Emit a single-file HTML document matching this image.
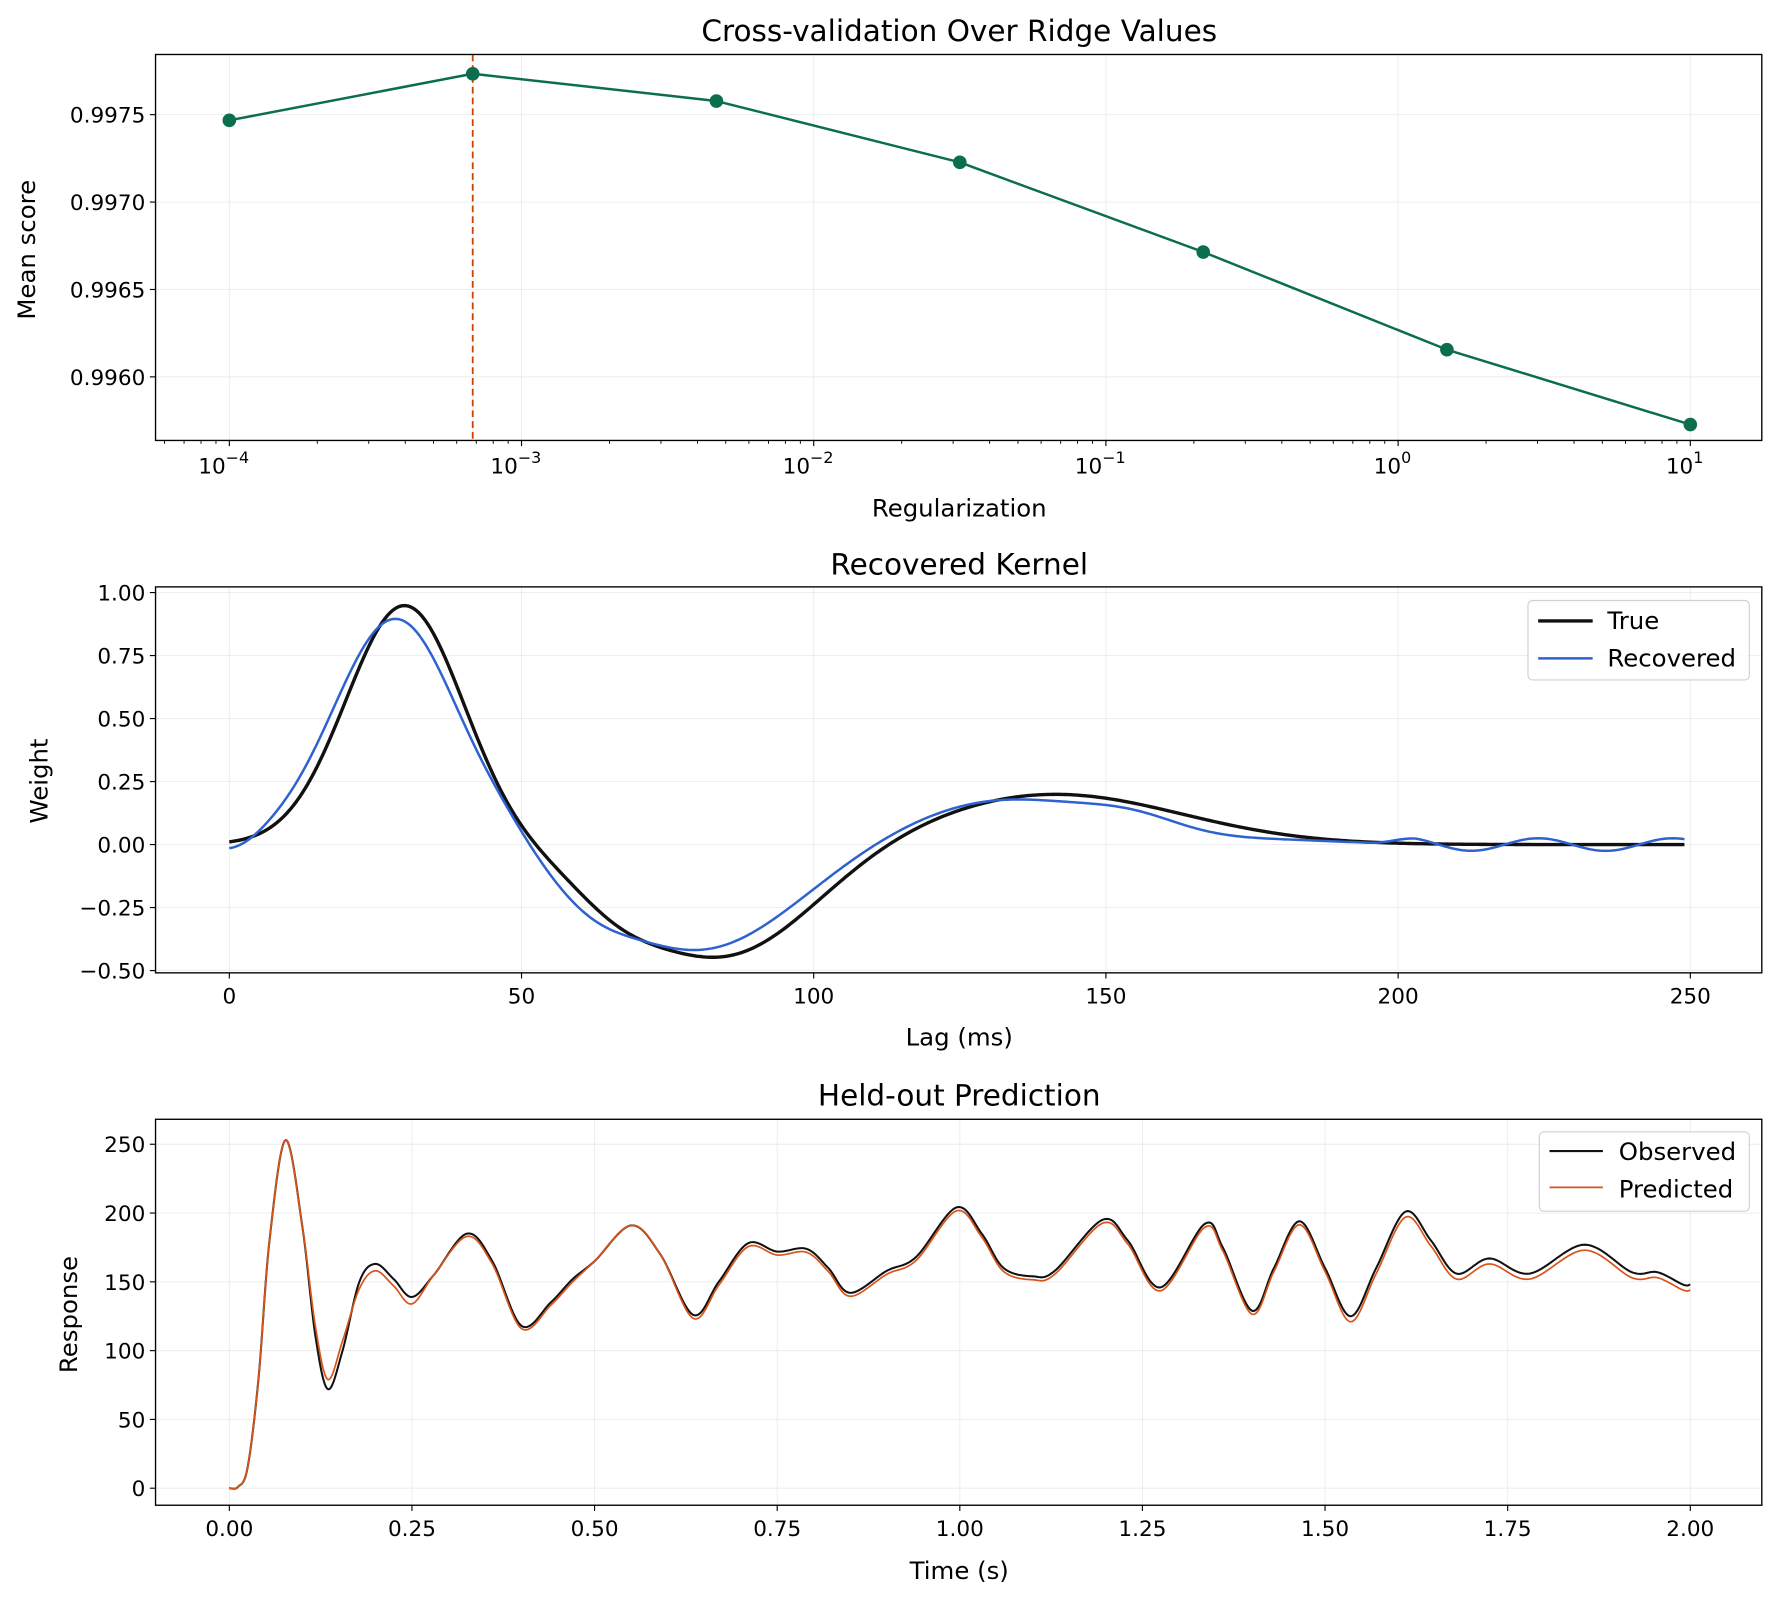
<!DOCTYPE html>
<html><head><meta charset="utf-8"><style>
html,body{margin:0;padding:0;background:#fff}
svg{display:block}
text{font-family:"DejaVu Sans","Liberation Sans",sans-serif;fill:#000}
</style></head><body>
<svg id="s" width="1780" height="1599" viewBox="0 0 1568 1408.6" xmlns="http://www.w3.org/2000/svg">
<rect width="1568" height="1409" fill="#fff"/>
<g id="g"></g>
<text x="845" y="36" font-size="26" text-anchor="middle">Cross-validation Over Ridge Values</text>
<text x="845" y="455" font-size="21.5" text-anchor="middle">Regularization</text>
<text transform="translate(31,220) rotate(-90)" font-size="21.5" text-anchor="middle">Mean score</text>
<text x="845" y="506" font-size="26" text-anchor="middle">Recovered Kernel</text>
<text x="845" y="921" font-size="21.5" text-anchor="middle">Lag (ms)</text>
<text transform="translate(42,688) rotate(-90)" font-size="21.5" text-anchor="middle">Weight</text>
<text x="845" y="974" font-size="26" text-anchor="middle">Held-out Prediction</text>
<text x="845" y="1391" font-size="21.5" text-anchor="middle">Time (s)</text>
<text transform="translate(68,1158) rotate(-90)" font-size="21.5" text-anchor="middle">Response</text>
<text x="1416" y="554" font-size="21.5">True</text>
<text x="1416" y="587" font-size="21.5">Recovered</text>
<text x="1426" y="1022" font-size="21.5">Observed</text>
<text x="1426" y="1055" font-size="21.5">Predicted</text>
</svg>
<script>
var g=document.getElementById('g'),h='';
function L(x1,y1,x2,y2,c,w,extra){h+='<line x1="'+x1+'" y1="'+y1+'" x2="'+x2+'" y2="'+y2+'" stroke="'+c+'" stroke-width="'+w+'" '+(extra||'')+'/>';}
function T(x,y,s,a,fs){h+='<text x="'+x+'" y="'+y+'" font-size="'+(fs||19)+'" text-anchor="'+a+'">'+s+'</text>';}
function P(pts,c,w){var d='M'+pts.map(function(p){return p[0].toFixed(2)+','+p[1].toFixed(2)}).join('L');h+='<path d="'+d+'" fill="none" stroke="'+c+'" stroke-width="'+w+'" stroke-linejoin="round"/>';}
var X0=137,X1=1552;
// ---------- top
var t0=48,t1=388;
function lx(v){return 202+(v+4)*257.4;}
function ty(v){return 101+(0.9975-v)/0.0005*77;}
for(var e=-4;e<=1;e++){L(lx(e),t0,lx(e),t1,'#ebebeb',0.8);}
[0.9975,0.9970,0.9965,0.9960].forEach(function(v){L(X0,ty(v),X1,ty(v),'#ebebeb',0.8);L(X0-5,ty(v),X0,ty(v),'#000',1);T(X0-9,ty(v)+7,v.toFixed(4),'end');});
for(var e=-5;e<=1;e++){for(var k=2;k<10;k++){var x=lx(e+Math.log10(k));if(x>X0&&x<X1)L(x,t1,x,t1+3,'#000',0.8);}}
['−4','−3','−2','−1','0','1'].forEach(function(s,i){var x=lx(i-4);L(x,t1,x,t1+5,'#000',1);h+='<text x="'+(x-5)+'" y="'+(t1+29)+'" font-size="19" text-anchor="middle">10<tspan dy="-9" font-size="14">'+s+'</tspan></text>';});
var cv=[[-4,106],[-3.167,65],[-2.333,89],[-1.5,143],[-0.667,222],[0.167,308],[1,374]];
L(lx(-3.167),t0,lx(-3.167),t1,'#cc4400',1.6,'stroke-dasharray="6,3.5"');
P(cv.map(function(p){return [lx(p[0]),p[1]]}),'#0b6e4f',2.2);
cv.forEach(function(p){h+='<circle cx="'+lx(p[0])+'" cy="'+p[1]+'" r="6" fill="#0b6e4f"/>';});
h+='<rect x="'+X0+'" y="'+t0+'" width="'+(X1-X0)+'" height="'+(t1-t0)+'" fill="none" stroke="#000" stroke-width="1.2"/>';
// ---------- middle
var m0=517,m1=857;
function mx(v){return 202+v*5.148;}
function my(v){return 744-v*222;}
for(var v=0;v<=250;v+=50){L(mx(v),m0,mx(v),m1,'#ebebeb',0.8);L(mx(v),m1,mx(v),m1+5,'#000',1);T(mx(v),m1+27,v,'middle');}
[1,0.75,0.5,0.25,0,-0.25,-0.5].forEach(function(v){L(X0,my(v),X1,my(v),'#ebebeb',0.8);L(X0-5,my(v),X0,my(v),'#000',1);T(X0-9,my(v)+7,(v<0?'−':'')+Math.abs(v).toFixed(2),'end');});
function G(t,a,m,s){return a*Math.exp(-(t-m)*(t-m)/(2*s*s));}
var tr=[],rc=[];
for(var t=0;t<=249;t+=0.5){
 var f=G(t,0.95,30,10)+G(t,-0.45,84,16)+G(t,0.2,141,22)+G(t,-0.08,66,7);
 tr.push([mx(t),my(f)]);
 var r=G(t,0.9,28.5,10.6)+G(t,-0.42,80,17)+G(t,0.18,133,18)+G(t,-0.06,62,6)+G(t,-0.04,1,4)+G(t,0.05,155,8)+G(t,0.015,180,12)+G(t,0.04,47,5);
 if(t>195)r+=0.025*Math.sin((t-201)/23*2*Math.PI+Math.PI/2)*Math.min(1,(t-195)/8);
 rc.push([mx(t),my(r)]);
}
P(tr,'#111',3);P(rc,'#2e62d0',2.2);
h+='<rect x="1346" y="529" width="195" height="70" rx="4" fill="#fff" fill-opacity="0.85" stroke="#d0d0d0" stroke-width="1"/>';
L(1355,547,1403,547,'#111',3);L(1355,580,1403,580,'#2e62d0',2.2);
h+='<rect x="'+X0+'" y="'+m0+'" width="'+(X1-X0)+'" height="'+(m1-m0)+'" fill="none" stroke="#000" stroke-width="1.2"/>';
// ---------- bottom
var b0=986,b1=1326;
function bx(v){return 202+v*643.5;}
function by(v){return 1311-v*1.212;}
for(var i=0;i<=8;i++){var v=i*0.25;L(bx(v),b0,bx(v),b1,'#ebebeb',0.8);L(bx(v),b1,bx(v),b1+5,'#000',1);T(bx(v),b1+27,v.toFixed(2),'middle');}
for(var v=0;v<=250;v+=50){L(X0,by(v),X1,by(v),'#ebebeb',0.8);L(X0-5,by(v),X0,by(v),'#000',1);T(X0-9,by(v)+7,v,'end');}
var ob=[[0,0],[0.012,1],[0.025,15],[0.04,80],[0.055,180],[0.077,253],[0.1,190],[0.118,110],[0.135,72],[0.155,100],[0.178,150],[0.2,163],[0.225,152],[0.25,139],[0.28,155],[0.325,185],[0.36,165],[0.4,118],[0.44,135],[0.47,152],[0.5,165],[0.55,191],[0.59,170],[0.635,126],[0.67,150],[0.71,178],[0.75,172],[0.79,174],[0.82,160],[0.85,142],[0.9,158],[0.94,168],[0.995,204],[1.03,185],[1.06,160],[1.1,154],[1.13,158],[1.195,195],[1.23,180],[1.275,146],[1.335,192],[1.36,175],[1.4,129],[1.43,160],[1.465,194],[1.5,160],[1.535,125],[1.57,160],[1.61,201],[1.645,180],[1.68,156],[1.725,167],[1.78,156],[1.855,177],[1.92,157],[1.955,157],[1.99,148],[2.0,148]];
var pd=ob.map(function(p){var v=p[1],t=p[0];
 if(t>0.11&&t<0.16)v+=7;else if(t>0.17&&t<0.26)v-=5;else if(t>0.3&&t<0.5)v-=2;else if(t>0.6)v-=2.5;
 if(t>1.5)v-=1.5; return [t,v];});
function cr(pts){var o=[];for(var i=0;i<pts.length-1;i++){var p0=pts[Math.max(0,i-1)],p1=pts[i],p2=pts[i+1],p3=pts[Math.min(pts.length-1,i+2)];
 for(var k=0;k<20;k++){var s=k/20,s2=s*s,s3=s2*s;
  var x=0.5*((2*p1[0])+(-p0[0]+p2[0])*s+(2*p0[0]-5*p1[0]+4*p2[0]-p3[0])*s2+(-p0[0]+3*p1[0]-3*p2[0]+p3[0])*s3);
  var y=0.5*((2*p1[1])+(-p0[1]+p2[1])*s+(2*p0[1]-5*p1[1]+4*p2[1]-p3[1])*s2+(-p0[1]+3*p1[1]-3*p2[1]+p3[1])*s3);
  o.push([bx(x),by(y)]);}}
 var l=pts[pts.length-1];o.push([bx(l[0]),by(l[1])]);return o;}
P(cr(ob),'#111',1.8);P(cr(pd),'#d9541a',1.5);
h+='<rect x="1356" y="997" width="185" height="70" rx="4" fill="#fff" fill-opacity="0.85" stroke="#d0d0d0" stroke-width="1"/>';
L(1365,1014,1412,1014,'#111',1.8);L(1365,1046,1412,1046,'#d9541a',1.5);
h+='<rect x="'+X0+'" y="'+b0+'" width="'+(X1-X0)+'" height="'+(b1-b0)+'" fill="none" stroke="#000" stroke-width="1.2"/>';
g.innerHTML=h;
</script>
</body></html>
